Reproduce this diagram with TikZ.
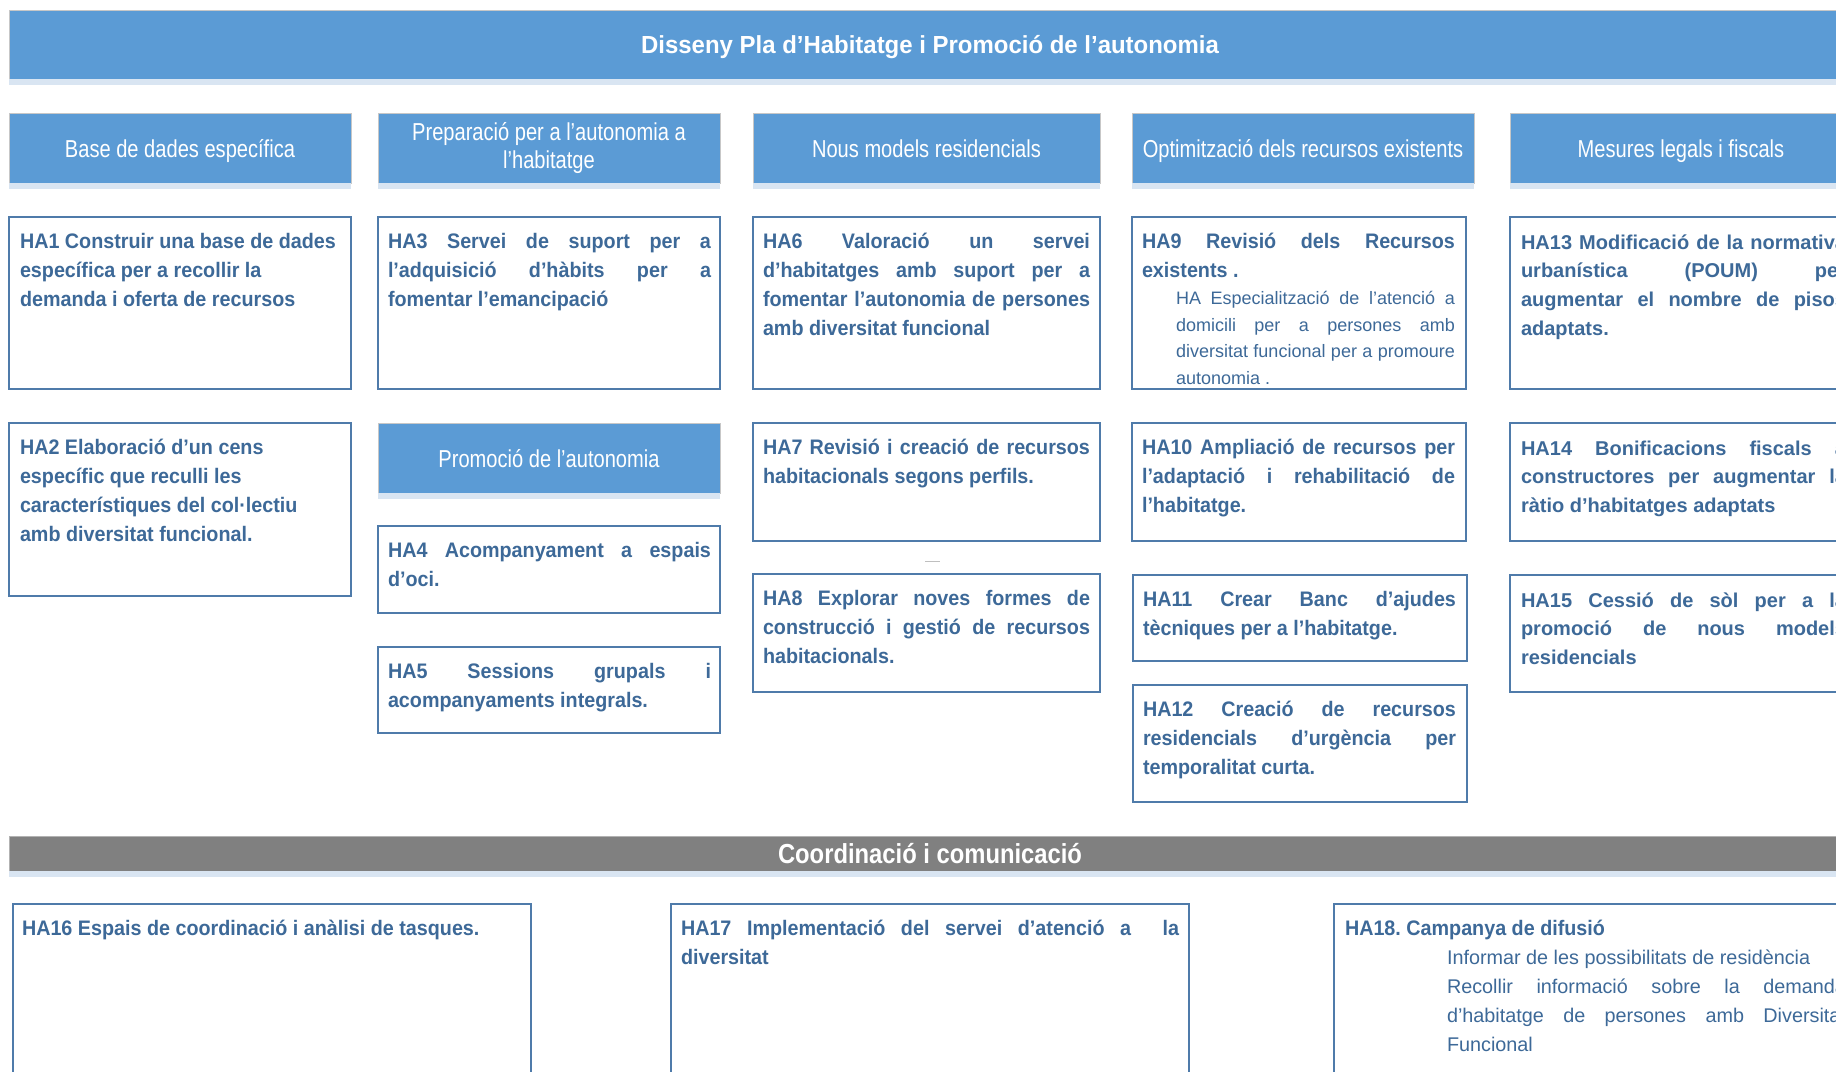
\documentclass[tikz,border=0pt]{standalone}
\usepackage{fontspec}
\setmainfont{Liberation Sans}
\newfontfamily\bodyf{Liberation Sans}[FakeStretch=0.94]
\newfontfamily\hdrf{Liberation Sans}[FakeStretch=0.82]
\newfontfamily\titlef{Liberation Sans}[FakeStretch=0.97]
\newfontfamily\coorf{Liberation Sans}[FakeStretch=0.865]
\newfontfamily\widef{Liberation Sans}
\definecolor{hdrblue}{HTML}{5B9BD5}
\definecolor{hdrshade}{HTML}{D9E5F2}
\definecolor{boxc}{HTML}{4F7BAA}
\definecolor{txtc}{HTML}{3D6998}
\definecolor{barg}{HTML}{808080}
\frenchspacing
\newlength\indw
\newcommand\JL[1]{\hbox to\hsize{#1}}
\newcommand\RL[1]{\hbox to\hsize{#1\hfil}}
\newcommand\JI[1]{\hbox to\hsize{\hskip\indw\hbox to\dimexpr\hsize-\indw\relax{#1}}}
\newcommand\RI[1]{\hbox to\hsize{\hskip\indw #1\hfil}}
\newcommand\BT[2]{\vtop{\hsize=#1\relax\bodyf\bfseries\fontsize{21}{29.2}\selectfont #2}}
\newcommand\WT[2]{\vtop{\hsize=#1\relax\widef\bfseries\fontsize{20}{28.8}\selectfont #2}}
\tikzset{
  bx/.style={draw=boxc, line width=1.6pt, fill=white, inner sep=0pt, outer sep=0pt, anchor=north west},
  hdr/.style={fill=hdrblue, draw=black!22, line width=0.8pt, inner sep=0pt, outer sep=0pt,
    anchor=north west, minimum height=70pt, text=white, align=center,
    font=\hdrf\fontsize{24.5}{28.5}\selectfont},
  oneline/.style={text height=18pt, text depth=0pt},
  txt/.style={anchor=base west, inner sep=0pt, outer sep=0pt, text=txtc},
}
\begin{document}
\begin{tikzpicture}[x=1pt,y=-1pt]
\useasboundingbox (0,0) rectangle (1836,1071);
\clip (0,0) rectangle (1836,1071);
% title bar
\node[hdr, oneline, minimum width=1842pt, minimum height=69pt,
  font=\titlef\bfseries\fontsize{24.7}{28}\selectfont] (title) at (9,10)
  {Disseny Pla d’Habitatge i Promoció de l’autonomia};
% column headers
\node[hdr, oneline, minimum width=342pt] (h1) at (9,113) {Base de dades específica};
\node[hdr, minimum width=342pt] (h2) at (378,113) {Preparació per a l’autonomia a\\l’habitatge};
\node[hdr, oneline, minimum width=347pt] (h3) at (753,113) {Nous models residencials};
\node[hdr, oneline, minimum width=342pt] (h4) at (1132,113) {Optimització dels recursos existents};
\node[hdr, oneline, minimum width=342pt] (h5) at (1510,113) {Mesures legals i fiscals};
\node[hdr, oneline, minimum width=342pt] (h6) at (378,423) {Promoció de l’autonomia};
% coordination bar
\node[hdr, fill=barg, draw=black!30, minimum width=1842pt, minimum height=35pt,
  font=\coorf\bfseries\fontsize{27.5}{30}\selectfont] (coord) at (9,836)
  {Coordinació i comunicació};
\foreach \n in {title,h1,h2,h3,h4,h5,h6,coord}
  \fill[hdrshade] ([yshift=-0.4pt]\n.south west) rectangle ([yshift=-5.5pt]\n.south east);
% boxes
\node[bx, minimum width=342pt, minimum height=172pt] (b1) at (9,217) {};
\node[bx, minimum width=342pt, minimum height=173pt] (b2) at (9,423) {};
\node[bx, minimum width=342pt, minimum height=172pt] (b3) at (378,217) {};
\node[bx, minimum width=342pt, minimum height=87pt] (b4) at (378,526) {};
\node[bx, minimum width=342pt, minimum height=86pt] (b5) at (378,647) {};
\node[bx, minimum width=347pt, minimum height=172pt] (b6) at (753,217) {};
\node[bx, minimum width=347pt, minimum height=118pt] (b7) at (753,423) {};
\node[bx, minimum width=347pt, minimum height=118pt] (b8) at (753,574) {};
\node[bx, minimum width=334pt, minimum height=172pt] (b9) at (1132,217) {};
\node[bx, minimum width=334pt, minimum height=118pt] (b10) at (1132,423) {};
\node[bx, minimum width=334pt, minimum height=86pt] (b11) at (1133,575) {};
\node[bx, minimum width=334pt, minimum height=117pt] (b12) at (1133,685) {};
\node[bx, minimum width=346pt, minimum height=172pt] (b13) at (1510,217) {};
\node[bx, minimum width=346pt, minimum height=118pt] (b14) at (1510,423) {};
\node[bx, minimum width=346pt, minimum height=117pt] (b15) at (1510,575) {};
\node[bx, minimum width=518pt, minimum height=200pt] (b16) at (13,904) {};
\node[bx, minimum width=518pt, minimum height=200pt] (b17) at (671,904) {};
\node[bx, minimum width=540pt, minimum height=200pt] (b18) at (1334,904) {};
\draw[black!25, line width=1pt] (925,561) -- (940,561);
% texts
\node[txt] (t1) at (20,248) {\BT{321pt}{%
  \RL{HA1 Construir una base de dades}\RL{específica per a recollir la}\RL{demanda i oferta de recursos}}};
\node[txt] (t2) at (20,454) {\BT{321pt}{%
  \RL{HA2 Elaboració d’un cens}\RL{específic que reculli les}\RL{característiques del col·lectiu}\RL{amb diversitat funcional.}}};
\node[txt] (t3) at (388,248) {\BT{323pt}{%
  \JL{HA3 Servei de suport per a}\JL{l’adquisició d’hàbits per a}\RL{fomentar l’emancipació}}};
\node[txt] (t4) at (388,557) {\BT{323pt}{%
  \JL{HA4 Acompanyament a espais}\RL{d’oci.}}};
\node[txt] (t5) at (388,678) {\BT{323pt}{%
  \JL{HA5 Sessions grupals i}\RL{acompanyaments integrals.}}};
\node[txt] (t6) at (763,248) {\BT{327pt}{%
  \JL{HA6 Valoració un servei}\JL{d’habitatges amb suport per a}\JL{fomentar l’autonomia de persones}\RL{amb diversitat funcional}}};
\node[txt] (t7) at (763,454) {\BT{327pt}{%
  \JL{HA7 Revisió i creació de recursos}\RL{habitacionals segons perfils.}}};
\node[txt] (t8) at (763,605) {\BT{327pt}{%
  \JL{HA8 Explorar noves formes de}\JL{construcció i gestió de recursos}\RL{habitacionals.}}};
\node[txt] (t9) at (1142,248) {\BT{313pt}{%
  \JL{HA9 Revisió dels Recursos}\RL{existents .}%
  \normalfont\fontsize{18}{26.7}\selectfont\vskip0.6pt\indw=34pt
  \JI{HA Especialització de l’atenció a}\JI{domicili per a persones amb}\JI{diversitat funcional per a promoure}\RI{autonomia .}}};
\node[txt] (t10) at (1142,454) {\BT{313pt}{%
  \JL{HA10 Ampliació de recursos per}\JL{l’adaptació i rehabilitació de}\RL{l’habitatge.}}};
\node[txt] (t11) at (1143,606) {\BT{313pt}{%
  \JL{HA11 Crear Banc d’ajudes}\RL{tècniques per a l’habitatge.}}};
\node[txt] (t12) at (1143,716) {\BT{313pt}{%
  \JL{HA12 Creació de recursos}\JL{residencials d’urgència per}\RL{temporalitat curta.}}};
\node[txt] (t13) at (1521,249) {\WT{325pt}{%
  \JL{HA13 Modificació de la normativa}\JL{urbanística (POUM) per}\JL{augmentar el nombre de pisos}\RL{adaptats.}}};
\node[txt] (t14) at (1521,455) {\WT{325pt}{%
  \JL{HA14 Bonificacions fiscals a}\JL{constructores per augmentar la}\RL{ràtio d’habitatges adaptats}}};
\node[txt] (t15) at (1521,607) {\WT{325pt}{%
  \JL{HA15 Cessió de sòl per a la}\JL{promoció de nous models}\RL{residencials}}};
\node[txt] (t16) at (22,935) {\BT{500pt}{%
  \RL{HA16 Espais de coordinació i anàlisi de tasques.}}};
\node[txt] (t17) at (681,935) {\BT{498pt}{%
  \JL{HA17 Implementació del servei d’atenció a\ \ la}\RL{diversitat}}};
\node[txt] (t18) at (1345,935) {\BT{501pt}{%
  \RL{HA18. Campanya de difusió}%
  \normalfont\fontsize{19.8}{29.2}\selectfont\indw=102pt
  \RI{Informar de les possibilitats de residència}\JI{Recollir informació sobre la demanda}\JI{d’habitatge de persones amb Diversitat}\RI{Funcional}}};
\end{tikzpicture}
\end{document}
